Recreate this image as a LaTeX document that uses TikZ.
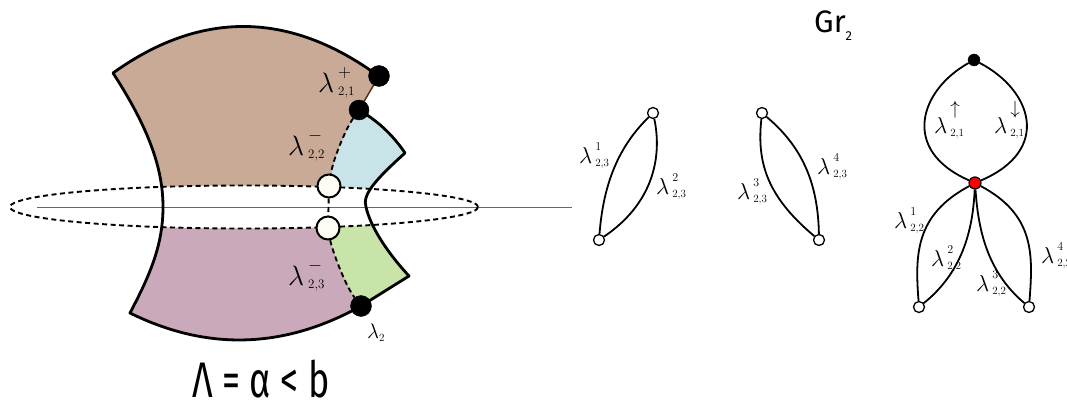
\RequirePackage{fix-cm}
\documentclass[tikz,border=0pt]{standalone}
\usepackage{fontspec}
\usepackage{graphicx}
\newfontfamily\handfont{Fira Sans}
\definecolor{brownfill}{RGB}{200,170,150}
\definecolor{bluefill}{RGB}{200,228,232}
\definecolor{mauvefill}{RGB}{201,169,186}
\definecolor{greenfill}{RGB}{201,228,168}
\definecolor{browndark}{RGB}{80,50,30}
\definecolor{offwhite}{RGB}{253,253,246}
\newcommand\lab[8]{%
  {\fontsize{#1}{#1}\selectfont$\lambda$}%
  \kern#2%
  \rlap{\raisebox{#3}{\fontsize{#4}{#4}\selectfont#5}}%
  \raisebox{#6}{\fontsize{#7}{#7}\selectfont#8}}
\newcommand\Llab[2]{\lab{28pt}{4pt}{15pt}{18pt}{$#1$}{-3pt}{13pt}{#2}}
\newcommand\Glab[2]{\lab{23pt}{3pt}{12.5pt}{12pt}{#1}{-3pt}{11pt}{#2}}
\newcommand\Alab[2]{\lab{23pt}{3pt}{19pt}{19pt}{$#1$}{-3pt}{11pt}{#2}}
\tikzset{
  outline/.style={line width=2.8pt, line join=round},
  dsh/.style={line width=1.9pt, dash pattern=on 5pt off 3.5pt},
  blackdot/.style={circle, fill=black, draw=black, inner sep=0pt},
  whitedot/.style={circle, fill=offwhite, draw=black, line width=2pt, inner sep=0pt, minimum size=23pt},
  gnode/.style={circle, fill=white, draw=black, line width=1.3pt, inner sep=0pt, minimum size=11pt},
  gedge/.style={line width=1.8pt},
  txt/.style={inner sep=0pt, anchor=base west},
}
\begin{document}
\begin{tikzpicture}[x=1pt,y=-1pt]
\useasboundingbox (0,0) rectangle (1067,409);

% ---------- coloured regions ----------
\begin{scope}
\clip (113,73) .. controls (198,12) and (284,11) .. (370,70) -- (379,76) -- (359,110)
  .. controls (380,122) and (395,138) .. (405,153)
  .. controls (375,180) and (362,195) .. (366,207)
  .. controls (370,225) and (385,250) .. (409,276) -- (361,306)
  .. controls (284,349) and (207,351) .. (130,313)
  .. controls (150,275) and (163,245) .. (163,207)
  .. controls (163,170) and (150,130) .. (113,73) -- cycle;
\fill[brownfill] (0,0) -- (379,0) -- (379,76) -- (359,110)
  .. controls (345,130) and (333,160) .. (329,186) -- (329,207) -- (0,207) -- cycle;
\fill[bluefill] (359,110) -- (500,110) -- (500,207) -- (329,207) -- (329,186)
  .. controls (333,160) and (345,130) .. (359,110) -- cycle;
\fill[mauvefill] (0,207) -- (328,207) -- (328,228)
  .. controls (332,250) and (345,285) .. (361,306) -- (361,400) -- (0,400) -- cycle;
\fill[greenfill] (328,207) -- (500,207) -- (500,400) -- (361,400) -- (361,306)
  .. controls (345,285) and (332,250) .. (328,228) -- cycle;
\end{scope}
\fill[white] (244,207) ellipse [x radius=234pt, y radius=21.5pt];

% thin horizontal axis
\coordinate (axl) at (37,207);
\coordinate (axr) at (572,207);
\draw[line width=0.8pt, black!60] (axl) -- (axr);

% outline
\draw[outline] (359,110) .. controls (380,122) and (395,138) .. (405,153)
  .. controls (375,180) and (362,195) .. (366,207)
  .. controls (370,225) and (385,250) .. (409,276) -- (361,306)
  .. controls (284,349) and (207,351) .. (130,313)
  .. controls (150,275) and (163,245) .. (163,207)
  .. controls (163,170) and (150,130) .. (113,73)
  .. controls (198,12) and (284,11) .. (370,70) -- (379,76);
\draw[line width=1.5pt, browndark] (379,76) -- (359,110);

% dashed ellipse
\draw[dsh] (244,207) ellipse [x radius=234pt, y radius=21.5pt];

% dots
\node[blackdot, minimum size=21pt] (d1) at (379,76) {};
\node[blackdot, minimum size=20pt] (d2) at (359,110) {};
\node[blackdot, minimum size=21pt] (d3) at (361,306) {};
\node[whitedot] (c1) at (329,186) {};
\node[whitedot] (c2) at (328,228) {};

\draw[dsh] (d2) .. controls (345,130) and (333,160) .. (c1);
\draw[dsh] (c1) -- (c2);
\draw[dsh] (c2) .. controls (332,250) and (345,285) .. (d3);

% left labels
\node[txt] (lp21) at (318,93) {\Llab{+}{2,1}};
\node[txt] (lm22) at (288,155) {\Llab{-}{2,2}};
\node[txt] (lm23) at (288,285) {\Llab{-}{2,3}};
\node[txt] (l2) at (367,338) {{\fontsize{21pt}{21pt}\selectfont$\lambda$}\raisebox{-3pt}{\fontsize{11pt}{11pt}\selectfont 2}};

\node[txt] (formula) at (192,397) {\scalebox{0.72}[1]{\handfont\fontsize{50pt}{50pt}\selectfont Λ = α < b}};
\node[txt] (gr) at (814,33) {{\handfont\fontsize{31pt}{31pt}\selectfont Gr}\raisebox{-8pt}{\handfont\fontsize{13pt}{13pt}\selectfont 2}};

% ---------- graph A ----------
\node[gnode] (ta) at (653,113) {};
\node[gnode] (ba) at (599,240) {};
\draw[gedge] (ba) .. controls (603,190) and (615,150) .. (ta);
\draw[gedge] (ta) .. controls (661,150) and (658,200) .. (ba);
\node[txt] (la1) at (579,163) {\Glab{1}{2,3}};
\node[txt] (la2) at (656,194) {\Glab{2}{2,3}};

% ---------- graph B ----------
\node[gnode] (tb) at (762,113) {};
\node[gnode] (bb) at (819,240) {};
\draw[gedge] (tb) .. controls (757,160) and (765,195) .. (bb);
\draw[gedge] (tb) .. controls (800,145) and (818,180) .. (bb);
\node[txt] (lb3) at (737,199) {\Glab{3}{2,3}};
\node[txt] (lb4) at (817,174) {\Glab{4}{2,3}};

% ---------- graph C ----------
\node[blackdot, minimum size=12pt] (tc) at (974,60) {};
\node[circle, fill=red, draw=black, line width=1.2pt, inner sep=0pt, minimum size=12pt] (rc) at (975,183) {};
\node[gnode] (bl) at (919,307) {};
\node[gnode] (br) at (1029,307) {};
\draw[gedge] (tc) .. controls (920,90) and (900,150) .. (rc);
\draw[gedge] (tc) .. controls (1032,90) and (1052,150) .. (rc);
\draw[gedge] (rc) .. controls (915,215) and (915,255) .. (bl);
\draw[gedge] (rc) .. controls (973,225) and (965,270) .. (bl);
\draw[gedge] (rc) .. controls (978,225) and (985,270) .. (br);
\draw[gedge] (rc) .. controls (1035,215) and (1033,255) .. (br);
\node[txt] (lcu) at (934,133) {\Alab{\uparrow}{2,1}};
\node[txt] (lcd) at (994,133) {\Alab{\downarrow}{2,1}};
\node[txt] (lc1) at (894,228) {\Glab{1}{2,2}};
\node[txt] (lc2) at (931,266) {\Glab{2}{2,2}};
\node[txt] (lc3) at (976,291) {\Glab{3}{2,2}};
\node[txt] (lc4) at (1041,263) {\Glab{4}{2,2}};
\end{tikzpicture}
\end{document}
